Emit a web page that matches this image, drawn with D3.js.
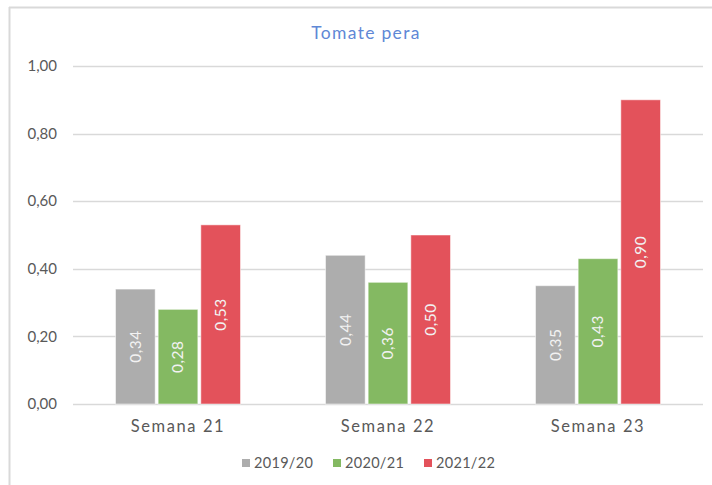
<!DOCTYPE html>
<html lang="es">
<head>
  <meta charset="UTF-8">
  <title>Tomate pera</title>
  <script src="https://d3js.org/d3.v7.min.js"></script>
  <style>
    body { margin: 0; background: #fff; }
    svg { font-family: "Lato", "Open Sans", sans-serif; }
    .grid line { stroke: #d9d9d9; stroke-width: 1.5px; }
    .tick-label { fill: #595959; font-size: 15px; }
    .cat-label { fill: #595959; font-size: 16.5px; letter-spacing: 1.6px; }
    .legend text { fill: #595959; font-size: 14.5px; letter-spacing: 0.3px; }
  </style>
</head>
<body>
  <svg id="chart"></svg>
  <script>
    // datos
    const categories = ["Semana 21", "Semana 22", "Semana 23"];
    const seriesNames = ["2019/20", "2020/21", "2021/22"];
    const s2019 = [0.34, 0.44, 0.35];
    const s2020 = [0.28, 0.36, 0.43];
    const s2021 = [0.53, 0.50, 0.90];
    const yTicks = [0, 0.2, 0.4, 0.6, 0.8, 1.0];
    const colors = ["#adadad", "#84b962", "#e3525b"];

    const width = 712, height = 485;
    const svg = d3.select("#chart").attr("width", width).attr("height", height);

    // marco
    svg.append("line").attr("x1", 9.5).attr("x2", 9.5).attr("y1", 7).attr("y2", height)
      .attr("stroke", "#d9d9d9").attr("stroke-width", 2);
    svg.append("line").attr("x1", 9).attr("x2", width).attr("y1", 7.5).attr("y2", 7.5)
      .attr("stroke", "#d9d9d9").attr("stroke-width", 2);

    // titulo
    svg.append("text").attr("x", 366).attr("y", 39).attr("text-anchor", "middle")
      .attr("fill", "#6088d6").attr("font-size", "17.5px").attr("letter-spacing", "1.3px")
      .text("Tomate pera");

    const left = 73, right = 703;
    const y = d3.scaleLinear().domain([0, 1]).range([404, 66]);
    const x0 = d3.scaleBand().domain(categories).range([left, right]);
    const groupW = 125;
    const x1 = d3.scaleBand().domain(seriesNames)
      .range([(x0.bandwidth() - groupW) / 2, (x0.bandwidth() + groupW) / 2])
      .paddingInner(0.07);

    // rejilla
    const grid = svg.append("g").attr("class", "grid");
    grid.selectAll("line").data(yTicks).join("line")
      .attr("x1", left).attr("x2", right)
      .attr("y1", d => Math.round(y(d)) + 0.5).attr("y2", d => Math.round(y(d)) + 0.5);

    svg.append("g").selectAll("text").data(yTicks).join("text")
      .attr("class", "tick-label")
      .attr("x", 57).attr("y", d => y(d)).attr("dy", "0.35em")
      .attr("text-anchor", "end")
      .text(d => d3.format(".2f")(d).replace(".", ","));

    const rows = categories.map((c, i) => ({
      cat: c,
      vals: [s2019[i], s2020[i], s2021[i]].map((v, j) => ({ name: seriesNames[j], v, j }))
    }));

    const groups = svg.append("g").selectAll("g").data(rows).join("g")
      .attr("transform", d => `translate(${x0(d.cat)},0)`);

    groups.selectAll("rect").data(d => d.vals).join("rect")
      .attr("x", d => x1(d.name)).attr("width", x1.bandwidth())
      .attr("y", d => y(d.v)).attr("height", d => y(0) - y(d.v))
      .attr("fill", d => colors[d.j])
      .attr("stroke", "#ffffff").attr("stroke-opacity", 0.5).attr("stroke-width", 1);

    groups.selectAll("text").data(d => d.vals).join("text")
      .attr("transform", d => `translate(${x1(d.name) + x1.bandwidth() / 2},${(y(d.v) + y(0)) / 2}) rotate(-90)`)
      .attr("text-anchor", "middle").attr("dy", "0.35em")
      .attr("fill", "#f2f2f2").attr("font-size", "15.5px").attr("letter-spacing", "0.5px")
      .text(d => d3.format(".2f")(d.v).replace(".", ","));

    // etiquetas de categoria
    svg.append("g").selectAll("text").data(categories).join("text")
      .attr("class", "cat-label")
      .attr("x", d => x0(d) + x0.bandwidth() / 2).attr("y", 432)
      .attr("text-anchor", "middle").text(d => d);

    // leyenda
    const legendX = [242, 333, 424];
    const legend = svg.append("g").attr("class", "legend").selectAll("g").data(seriesNames).join("g")
      .attr("transform", (d, i) => `translate(${legendX[i]},463)`);
    legend.append("rect").attr("x", 0).attr("y", -4).attr("width", 8).attr("height", 8)
      .attr("fill", (d, i) => colors[i]);
    legend.append("text").attr("x", 12).attr("dy", "0.35em").text(d => d);
  </script>
</body>
</html>
